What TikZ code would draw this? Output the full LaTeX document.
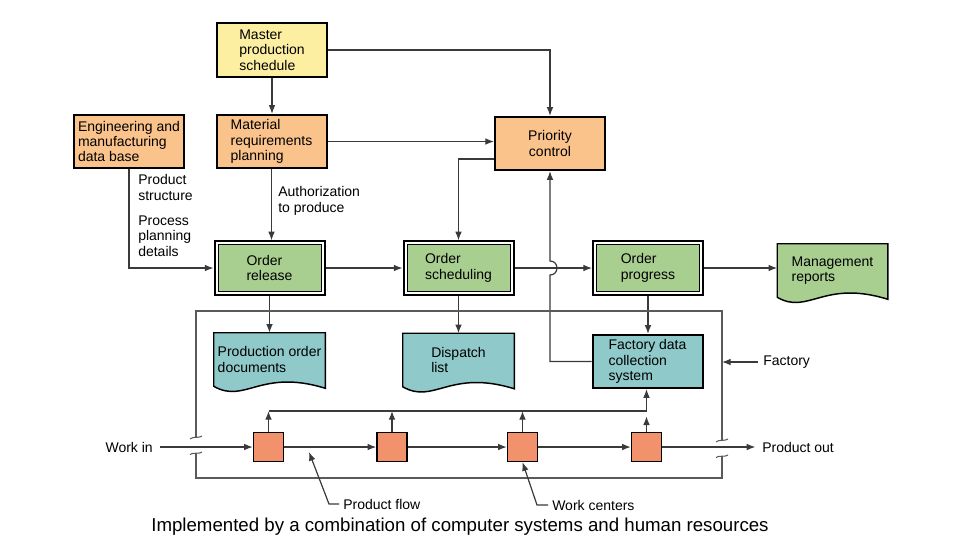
\documentclass[tikz,border=0pt]{standalone}
\usepackage{fontspec}
\setmainfont{Liberation Sans}
\usetikzlibrary{arrows.meta,calc,backgrounds}

\definecolor{mpsfill}{HTML}{FDEFA2}
\definecolor{orfill}{HTML}{FBC38C}
\definecolor{grfill}{HTML}{A9CF90}
\definecolor{tlfill}{HTML}{8FC9C9}
\definecolor{wcfill}{HTML}{F2926C}
\definecolor{linec}{HTML}{3A3A3A}
\definecolor{framec}{HTML}{5A5A5A}

% wavy-bottomed document outline around a node
\newcommand\docoutline[2]{%
  \draw[line width=1.1pt, draw=black, fill=#2]
    (#1.north west) -- (#1.north east) -- ([yshift=-1.5pt]#1.south east)
    .. controls ($(#1.south west)!0.42!(#1.south east)+(0,13.5pt)$)
           and ($(#1.south west)!0.28!(#1.south east)+(0,-13.5pt)$) ..
    (#1.south west) -- cycle;}

\begin{document}
\begin{tikzpicture}[x=0.75pt,y=-0.75pt,
  every node/.style={font=\fontsize{10.5}{11.6}\selectfont, inner sep=0pt},
  box/.style={draw=black, line width=1.5pt, minimum width=82.5pt,
    minimum height=40pt, align=left},
  dbox/.style={draw=black, line width=1.5pt, fill=white, minimum width=82.5pt,
    minimum height=40pt, align=left,
    path picture={\draw[line width=0.7pt, fill=grfill]
      ([shift={(2.6pt,-2.6pt)}]path picture bounding box.north west) rectangle
      ([shift={(-2.6pt,2.6pt)}]path picture bounding box.south east);}},
  docbox/.style={minimum width=82.5pt, minimum height=39.75pt, align=left},
  wc/.style={draw=black, line width=1.1pt, fill=wcfill, minimum width=22.5pt,
    minimum height=21.75pt},
  conn/.style={draw=linec, line width=0.9pt, -{Latex[length=6.5pt,width=5pt]}},
  plain/.style={draw=linec, line width=0.9pt},
  frame/.style={draw=framec, line width=0.8pt}]

\useasboundingbox (0,0) rectangle (972,544);

% planning blocks
\node[box, fill=mpsfill] (mps) at (272,50) {Master\\production\\schedule};
\node[box, fill=orfill] (mrp) at (271.5,141.5) {Material\\requirements\\planning};
\node[box, fill=orfill] (emd) at (129,141.5) {Engineering and\\manufacturing\\data base};
\node[box, fill=orfill, align=center] (pc) at (550,143.5) {Priority\\control};

% order functions
\node[dbox] (orl) at (269.5,268) {Order\\release};
\node[dbox] (osc) at (458.5,268) {Order\\scheduling};
\node[dbox] (opr) at (648,268) {Order\\progress};

% documents and data collection
\node[docbox] (mr) at (832.5,270.5) {Management\\reports};
\node[docbox, minimum width=83.25pt] (po) at (269.5,359.5) {Production order\\documents};
\node[docbox, minimum width=83.25pt] (dl) at (458.5,360) {Dispatch\\list};
\begin{scope}[on background layer]
  \fill[white] (0,0) rectangle (972,544);
  \docoutline{mr}{grfill}
  \docoutline{po}{tlfill}
  \docoutline{dl}{tlfill}
\end{scope}
\node[box, fill=tlfill] (fdc) at (647.5,361.5) {Factory data\\collection\\system};

% work centers
\node[wc] (w1) at (268.5,447) {};
\node[wc] (w2) at (392,447) {};
\node[wc] (w3) at (522.5,447) {};
\node[wc] (w4) at (646.5,447) {};

% labels
\node[anchor=west, align=left] (auth) at (278,201) {Authorization\\to produce};
\node[anchor=west, align=left] (pstr) at (138,187.5) {Product\\structure};
\node[anchor=west, align=left] (ppd) at (138,236) {Process\\planning\\details};
\node[anchor=east] (win) at (153,447) {Work in};
\node[anchor=west] (pout) at (762,447) {Product out};
\node[anchor=west] (fac) at (763,362) {Factory};
\node[anchor=west] (pfl) at (343,504) {Product flow};
\node[anchor=west] (wcl) at (552,505) {Work centers};
\node (cap) at (460,527) {\fontsize{14}{16}\selectfont Implemented by a combination of computer systems and human resources};

% planning connectors
\draw[conn] (mps.south) -- (mps.south |- mrp.north);
\draw[conn] (mps.east) -| (pc.north);
\draw[conn] (mrp.east) -- (mrp.east -| pc.west);
\draw[conn] ([yshift=-11.6pt]pc.west) -| (osc.north);
\draw[conn] (mrp.south) -- (mrp.south |- orl.north);
\draw[conn] (emd.south) |- (orl.west);

% order flow
\draw[conn] (orl) -- (osc);
\draw[conn] (osc) -- (opr);
\draw[conn] (opr.east) -- (opr.east -| mr.west);
\draw[conn] (orl.south) -- (orl.south |- po.north);
\draw[conn] (osc.south) -- (osc.south |- dl.north);
\draw[conn] (opr.south) -- (opr.south |- fdc.north);

% feedback from data collection to priority control, hopping over the order line
\coordinate (jmp) at (pc.south |- osc.east);
\draw[conn] (fdc.west) -- (fdc.west -| pc.south) -- ($(jmp)+(0,7)$)
  .. controls ($(jmp)+(9.3,7)$) and ($(jmp)+(9.3,-7)$) .. ($(jmp)+(0,-7)$)
  -- (pc.south);

% factory boundary with openings for the product line
\draw[frame] (196,437) -- (196,311) -- (722,311) -- (722,440);
\draw[frame] (722,457) -- (722,478) -- (196,478) -- (196,454);
\draw[frame] (190,439) .. controls (193,436) and (199,438.5) .. (202,436);
\draw[frame] (190,454.5) .. controls (193,452) and (199,454.5) .. (202,452);
\draw[frame] (716,442) .. controls (719,439) and (725,441.5) .. (728,439);
\draw[frame] (716,457.5) .. controls (719,455) and (725,457.5) .. (728,455);
\coordinate (fr) at (722,362);
\draw[conn] ([xshift=-4pt]fac.west) -- (fr);

% product flow through work centers
\draw[conn] ([xshift=5pt]win.east) -- (w1);
\draw[conn] (w1) -- (w2);
\draw[conn] (w2) -- (w3);
\draw[conn] (w3) -- (w4);
\draw[conn] (w4) -- ([xshift=-5pt]pout.west);

% shop-floor data collection
\coordinate (fbl) at (268.5,411);
\coordinate (fbr) at (646.5,411);
\draw[plain] (fbl) -- (fbr);
\draw[conn] (w1.north) -- (w1.north |- fbl);
\draw[conn] (w2.north) -- (w2.north |- fbl);
\draw[conn] (w3.north) -- (w3.north |- fbl);
\draw[conn] (w4.north) -- ([yshift=-4pt]w4.north |- fbl);
\draw[conn] (fbr) -- (fbr |- fdc.south);

% callouts
\coordinate (pfp) at (309,452);
\draw[conn] ([xshift=-3pt]pfl.west) -- ++(-10,0) -- (pfp);
\draw[conn] ([xshift=-3pt]wcl.west) -- ++(-11,0) -- (w3.south);

\end{tikzpicture}
\end{document}
